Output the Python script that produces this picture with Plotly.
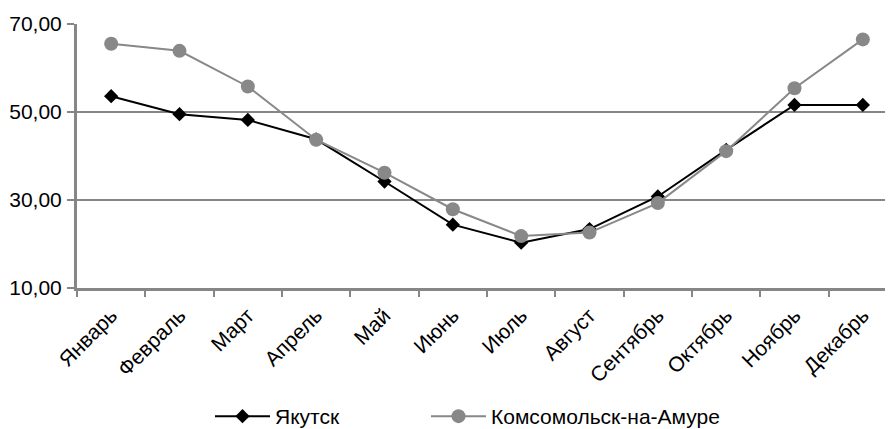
import plotly.graph_objects as go

months = ["Январь", "Февраль", "Март", "Апрель", "Май", "Июнь", "Июль",
          "Август", "Сентябрь", "Октябрь", "Ноябрь", "Декабрь"]
yakutsk = [53.6, 49.5, 48.2, 43.8, 34.2, 24.4, 20.3, 23.4, 30.8, 41.4, 51.6, 51.6]
komsomolsk = [65.5, 63.9, 55.8, 43.7, 36.2, 27.9, 21.8, 22.6, 29.3, 41.1, 55.4, 66.5]
y_ticks = [10, 30, 50, 70]

FONT = "Liberation Sans, Arial, sans-serif"
GRAY = "#868686"

fig = go.Figure()
fig.add_trace(go.Scatter(
    x=months, y=yakutsk, name="Якутск", mode="lines+markers",
    line=dict(color="black", width=2),
    marker=dict(symbol="diamond", size=11, color="black"),
    legend="legend",
))
fig.add_trace(go.Scatter(
    x=months, y=komsomolsk, name="Комсомольск-на-Амуре", mode="lines+markers",
    line=dict(color="#888888", width=2),
    marker=dict(symbol="circle", size=14, color="#888888"),
    legend="legend2",
))

leg_common = dict(
    orientation="h", xanchor="left", yanchor="bottom",
    xref="container", yref="container", y=0.0,
    itemwidth=55,
    font=dict(family=FONT, size=21, color="black"),
    bgcolor="rgba(0,0,0,0)",
)

fig.update_layout(
    width=893, height=429,
    margin=dict(l=69, r=4, t=16, b=149),
    paper_bgcolor="white", plot_bgcolor="white",
    font=dict(family=FONT, size=21, color="black"),
    showlegend=True,
    legend=dict(x=202 / 893, **leg_common),
    legend2=dict(x=418 / 893, **leg_common),
    xaxis=dict(
        type="category", tickangle=-45, tickson="boundaries",
        ticks="outside", ticklen=6, tickwidth=2, tickcolor=GRAY,
        showline=True, linecolor=GRAY, linewidth=3,
        showgrid=False, range=[-0.5, 11.5], automargin=False,
        ticklabelstandoff=4,
        tickfont=dict(family=FONT, size=21, color="black"),
    ),
    yaxis=dict(
        range=[10, 70], tickvals=y_ticks,
        ticktext=[f"{v:.2f}".replace(".", ",") for v in y_ticks],
        ticks="outside", ticklen=7, tickwidth=2, tickcolor=GRAY,
        showline=True, linecolor=GRAY, linewidth=3, automargin=False,
        showgrid=True, gridcolor=GRAY, gridwidth=2, zeroline=False,
        ticklabelstandoff=1,
        tickfont=dict(family=FONT, size=21, color="black"),
    ),
)

fig.write_html("out.html")
